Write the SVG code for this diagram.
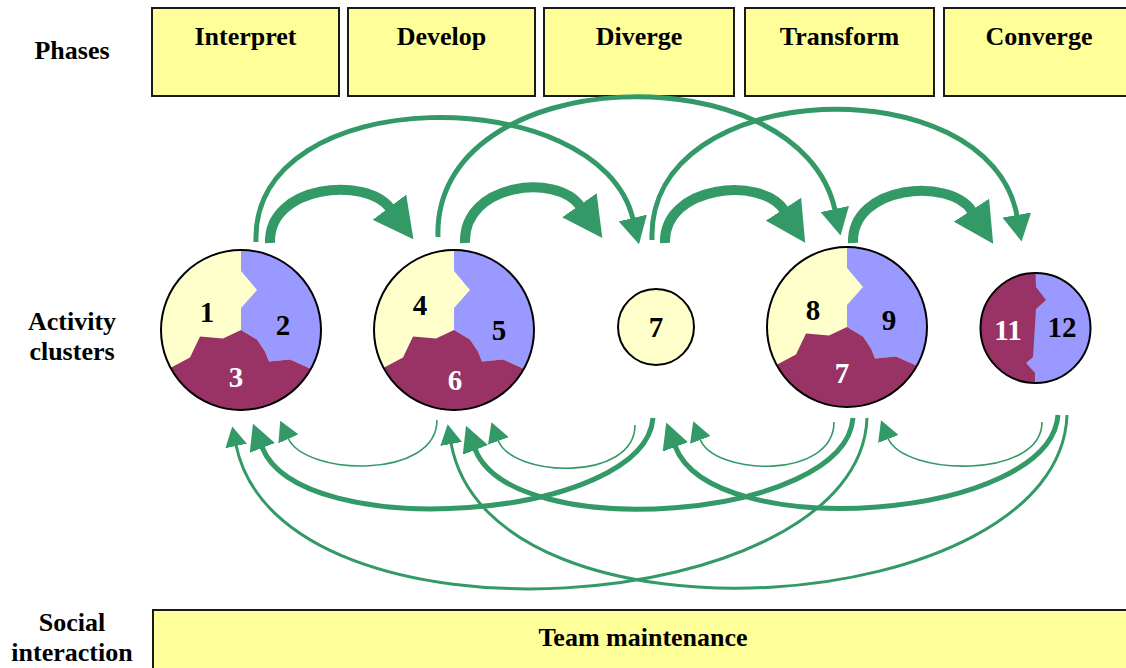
<svg xmlns="http://www.w3.org/2000/svg" xmlns:xlink="http://www.w3.org/1999/xlink" width="1126" height="668" viewBox="0 0 1126 668">
<style>
.lbl{font-family:"Liberation Serif","Times New Roman",serif;font-weight:bold;font-size:26px;fill:#000;text-anchor:middle}
.num{font-family:"Liberation Serif","Times New Roman",serif;font-weight:bold;font-size:29px;text-anchor:middle}
.blk{fill:#000}.wht{fill:#fff}
.phase{fill:#FFFF99;stroke:#1a1a1a;stroke-width:2}
.ring{fill:none;stroke:#000;stroke-width:2}
.c{fill:none;stroke:#339966}
.thick{stroke-width:10}
.mid{stroke-width:5}
.thin{stroke-width:5}
.fine{stroke-width:1.6}
.long{stroke-width:3}
</style>
<defs>
<marker id="hBig" markerUnits="userSpaceOnUse" viewBox="0 0 40 42" markerWidth="40" markerHeight="42" refX="1" refY="21" orient="auto"><path d="M0,0 L40,21 L0,42 Z" fill="#339966"/></marker>
<marker id="hTop" markerUnits="userSpaceOnUse" viewBox="0 0 27 29" markerWidth="27" markerHeight="29" refX="1" refY="14.5" orient="auto"><path d="M0,0 L27,14.5 L0,29 Z" fill="#339966"/></marker>
<marker id="hMid" markerUnits="userSpaceOnUse" viewBox="0 0 26 27" markerWidth="26" markerHeight="27" refX="1" refY="13.5" orient="auto"><path d="M0,0 L26,13.5 L0,27 Z" fill="#339966"/></marker>
<marker id="hSm" markerUnits="userSpaceOnUse" viewBox="0 0 20 22" markerWidth="20" markerHeight="22" refX="1" refY="11" orient="auto"><path d="M0,0 L20,11 L0,22 Z" fill="#339966"/></marker>
<clipPath id="cc"><circle cx="0" cy="0" r="80"/></clipPath>
<clipPath id="cs"><circle cx="1035.5" cy="328" r="55"/></clipPath>
<g id="pie">
<circle cx="0" cy="0" r="80" fill="#FFFFCC"/>
<g clip-path="url(#cc)">
<polygon fill="#9999FF" points="0,-90 95,-90 95,48 67,37.5 49,29.5 28,31.5 24,21.5 16,9.5 0,0 0,-22 16,-40 0,-59"/>
<polygon fill="#993366" points="0,0 16,9.5 24,21.5 28,31.5 49,29.5 67,37.5 95,52 95,95 -95,95 -95,52 -68,36.5 -51,27.5 -41,6.5 -18,8.5"/>
</g>
<circle class="ring" cx="0" cy="0" r="80"/>
</g>
</defs>
<rect width="1126" height="668" fill="#fff"/>

<g id="labels">
<text class="lbl" x="72" y="59">Phases</text>
<text class="lbl" x="72" y="330">Activity</text>
<text class="lbl" x="72" y="360">clusters</text>
<text class="lbl" x="72" y="631">Social</text>
<text class="lbl" x="72" y="661">interaction</text>
</g>

<g id="phase-interpret"><rect class="phase" x="152" y="8" width="187" height="88"/><text class="lbl" x="245.5" y="45">Interpret</text></g>
<g id="phase-develop"><rect class="phase" x="348" y="8" width="187" height="88"/><text class="lbl" x="441.5" y="45">Develop</text></g>
<g id="phase-diverge"><rect class="phase" x="544" y="8" width="190" height="88"/><text class="lbl" x="639" y="45">Diverge</text></g>
<g id="phase-transform"><rect class="phase" x="745" y="8" width="189" height="88"/><text class="lbl" x="839.5" y="45">Transform</text></g>
<g id="phase-converge"><rect class="phase" x="944" y="8" width="200" height="88"/><text class="lbl" x="1039" y="45">Converge</text></g>

<g id="cluster1">
<use xlink:href="#pie" href="#pie" transform="translate(241,330)"/>
<text class="num blk" x="207" y="322">1</text>
<text class="num blk" x="283" y="335">2</text>
<text class="num wht" x="236" y="387">3</text>
</g>
<g id="cluster2">
<use xlink:href="#pie" href="#pie" transform="translate(454,330)"/>
<text class="num blk" x="420" y="315">4</text>
<text class="num blk" x="499" y="340">5</text>
<text class="num wht" x="455" y="390">6</text>
</g>
<g id="cluster3">
<circle cx="656" cy="327" r="38" fill="#FFFFCC" stroke="#000" stroke-width="2"/>
<text class="num blk" x="656" y="337">7</text>
</g>
<g id="cluster4">
<use xlink:href="#pie" href="#pie" transform="translate(847,327)"/>
<text class="num blk" x="813" y="320">8</text>
<text class="num blk" x="889" y="330">9</text>
<text class="num wht" x="842" y="383">7</text>
</g>
<g id="cluster5">
<circle cx="1035.5" cy="328" r="55" fill="#9999FF"/>
<path clip-path="url(#cs)" fill="#993366" d="M1035,260 L1036,287 L1046,300 L1036,309 L1033,357 L1026,363 L1035,373 L1035,395 L970,395 L970,260 Z"/>
<circle class="ring" cx="1035.5" cy="328" r="55"/>
<text class="num wht" x="1008" y="340">11</text>
<text class="num blk" x="1062" y="337">12</text>
</g>

<g id="team-maintenance">
<rect class="phase" x="153" y="610" width="1000" height="100"/>
<text class="lbl" x="643" y="646">Team maintenance</text>
</g>

<g id="connectors">
<!-- forward thick -->
<path class="c thick" marker-end="url(#hBig)" d="M270,243 C268,185 366,176 390,208"/>
<path class="c thick" marker-end="url(#hBig)" d="M465,243 C463,183 557,173 580,206"/>
<path class="c thick" marker-end="url(#hBig)" d="M665,243 C663,185 762,176 784,210"/>
<path class="c thick" marker-end="url(#hBig)" d="M853,243 C851,185 950,177 972,211"/>
<!-- forward long -->
<path class="c thin" marker-end="url(#hTop)" d="M256,242 C250,80 600,80 633,219"/>
<path class="c thin" marker-end="url(#hTop)" d="M438,237 C432,60 800,50 835,210"/>
<path class="c thin" marker-end="url(#hTop)" d="M652,240 C646,75 990,65 1017,216"/>
<!-- feedback fine -->
<path class="c fine" marker-end="url(#hSm)" d="M437,420 C437,480 305,476 288,438"/>
<path class="c fine" marker-end="url(#hSm)" d="M635,425 C635,482 512,478 498,440"/>
<path class="c fine" marker-end="url(#hSm)" d="M834,422 C834,480 714,476 700,439"/>
<path class="c fine" marker-end="url(#hSm)" d="M1042,422 C1042,480 903,476 888,438"/>
<!-- feedback medium -->
<path class="c mid" marker-end="url(#hMid)" d="M653,418 C645,520 300,545 262,447"/>
<path class="c mid" marker-end="url(#hMid)" d="M853,418 C845,520 512,545 475,449"/>
<path class="c mid" marker-end="url(#hMid)" d="M1058,415 C1050,520 712,545 675,446"/>
<!-- feedback long -->
<path class="c long" marker-end="url(#hSm)" d="M867,418 C860,620 280,660 236,445"/>
<path class="c long" marker-end="url(#hSm)" d="M1067,415 C1060,620 490,660 451,443"/>
</g>
</svg>
